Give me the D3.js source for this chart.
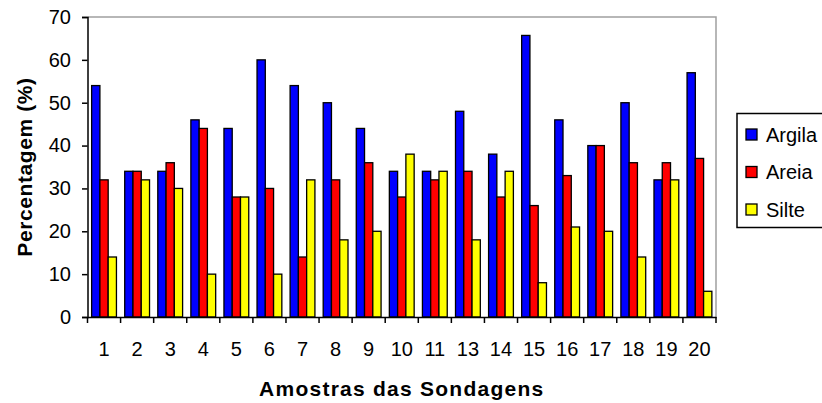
<!DOCTYPE html>
<html><head><meta charset="utf-8">
<script src="https://cdn.jsdelivr.net/npm/d3@7"></script>
<style>body{margin:0;background:#fff}svg{display:block;font-family:"Liberation Sans",Arial,sans-serif}</style>
</head><body><svg id="c" width="822" height="403"></svg>
<script>
const categories = ["1","2","3","4","5","6","7","8","9","10","11","13","14","15","16","17","18","19","20"];
const argila = [54,34,34,46,44,60,54,50,44,34,34,48,38,65.7,46,40,50,32,57];
const areia  = [32,34,36,44,28,30,14,32,36,28,32,34,28,26,33,40,36,36,37];
const silte  = [14,32,30,10,28,10,32,18,20,38,34,18,34,8,21,20,14,32,6];
const seriesNames = ["Argila","Areia","Silte"];
const seriesColors = ["#0000FF","#FF0000","#FFFF00"];
const yTicks = [0,10,20,30,40,50,60,70];

const svg = d3.select("#c");
const L = 87.5, R = 716, T = 17, B = 317;
const x = d3.scaleBand().domain(categories).range([L, R]).paddingInner(0).paddingOuter(0);
const xs = d3.scaleBand().domain(seriesNames).range([0, x.bandwidth()]).paddingInner(0).paddingOuter(0.5);
const y = d3.scaleLinear().domain([0,70]).range([B, T]);

svg.append("path").attr("d",`M${L},${T}H${R}V${B}`).attr("fill","none").attr("stroke","#a0a0a0").attr("stroke-width",1.5);

const data = categories.map((c,i)=>({c, vals:[argila[i],areia[i],silte[i]]}));
const g = svg.append("g");
data.forEach(d=>{
  d.vals.forEach((v,j)=>{
    g.append("rect")
      .attr("x", x(d.c)+xs(seriesNames[j]))
      .attr("y", y(v))
      .attr("width", xs.bandwidth())
      .attr("height", y(0)-y(v))
      .attr("fill", seriesColors[j])
      .attr("stroke","#000").attr("stroke-width",1.3);
  });
});

const ya = svg.append("g").attr("transform",`translate(${L},0)`)
  .call(d3.axisLeft(y).tickValues(yTicks).tickSize(5.5).tickPadding(11).tickFormat(d3.format("d")));
ya.select(".domain").attr("stroke","#000").attr("stroke-width",1.5);
ya.selectAll(".tick line").attr("stroke","#000").attr("stroke-width",1.5);
ya.selectAll(".tick text").attr("font-size",20).attr("font-family","Liberation Sans, Arial").attr("fill","#000");

const xa = svg.append("g").attr("transform",`translate(0,${B})`)
  .call(d3.axisBottom(x).tickSize(0).tickPadding(25));
xa.select(".domain").attr("stroke","#000").attr("stroke-width",1.5);
xa.selectAll(".tick text").attr("font-size",20).attr("font-family","Liberation Sans, Arial").attr("fill","#000");
const bounds = categories.map(c=>x(c)).concat([R]);
xa.selectAll(".bt").data(bounds).enter().append("line")
  .attr("x1",d=>d).attr("x2",d=>d).attr("y1",0).attr("y2",6)
  .attr("stroke","#000").attr("stroke-width",1.5);

svg.append("text").attr("x",(L+R)/2).attr("y",396).attr("text-anchor","middle")
  .attr("font-size",21).attr("font-weight","bold").attr("letter-spacing",1.25).text("Amostras das Sondagens");
svg.append("text").attr("transform",`translate(32,${(T+B)/2}) rotate(-90)`).attr("text-anchor","middle")
  .attr("font-size",21).attr("font-weight","bold").attr("letter-spacing",0.6).text("Percentagem (%)");

const lg = svg.append("g");
lg.append("rect").attr("x",737).attr("y",113.5).attr("width",100).attr("height",114)
  .attr("fill","#fff").attr("stroke","#000").attr("stroke-width",1.5);
seriesNames.forEach((s,i)=>{
  const cy = 134.5 + i*37.5;
  lg.append("rect").attr("x",746).attr("y",cy-5.5).attr("width",11).attr("height",11)
    .attr("fill",seriesColors[i]).attr("stroke","#000").attr("stroke-width",1.3);
  lg.append("text").attr("x",766).attr("y",cy+7).attr("font-size",20).text(s);
});
</script></body></html>
